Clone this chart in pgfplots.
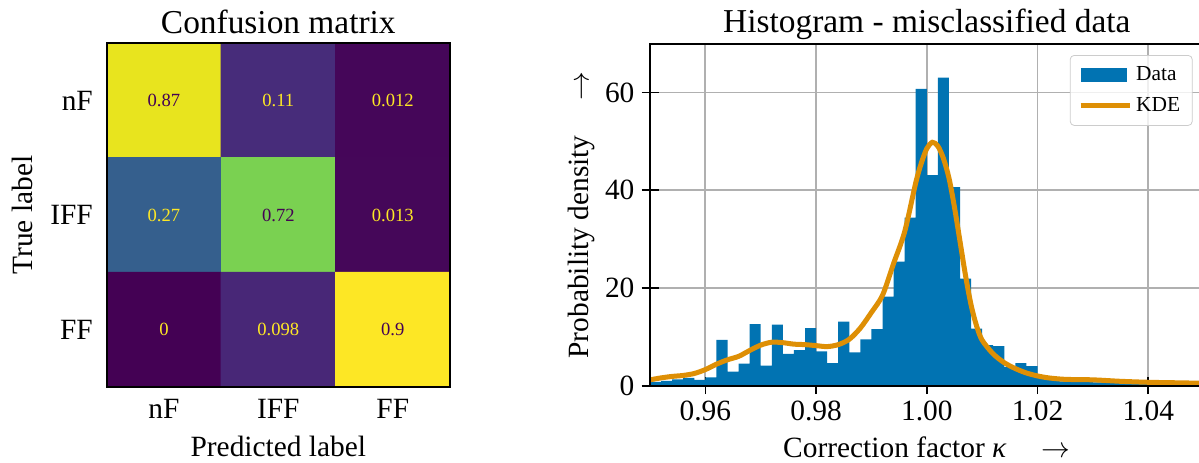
\documentclass[border=0pt]{standalone}
\usepackage{fontspec}
\setmainfont{Liberation Serif}
\usepackage{pgfplots}
\pgfplotsset{compat=1.18}
\definecolor{cbblue}{HTML}{0173B2}
\definecolor{cborange}{HTML}{DE8F05}
\definecolor{vyel}{HTML}{FDE725}
\definecolor{vpur}{HTML}{440154}
\definecolor{gridgray}{HTML}{B0B0B0}
\newcommand{\ttl}{\fontsize{16.7}{20}\selectfont}
\newcommand{\lbl}{\fontsize{14.7}{17}\selectfont}
\newcommand{\legf}{\fontsize{10.7}{12.5}\selectfont}
\newcommand{\cellf}{\fontsize{9.3}{11}\selectfont}
\newcommand{\arr}{{\fontsize{14}{16}\selectfont$\rightarrow$}}
\begin{document}
\begin{tikzpicture}
\useasboundingbox (0,0) rectangle (599.5pt,231pt);

% confusion matrix
\begin{axis}[
  at={(53.35pt,37.65pt)}, anchor=south west,
  scale only axis, width=171.65pt, height=171.7pt,
  xmin=-0.5, xmax=2.5, ymin=-0.5, ymax=2.5, y dir=reverse,
  xtick={0,1,2}, ytick={0,1,2},
  xticklabels={nF,IFF,FF}, yticklabels={nF,IFF,FF},
  major tick length=0pt,
  ticklabel style={font=\lbl},
  xticklabel style={yshift=-2.9pt},
  yticklabel style={xshift=-3.4pt},
  colormap/viridis, point meta min=0, point meta max=0.9,
  axis on top, axis line style={line width=1pt},
  every axis title shift=0pt,
  title={Confusion matrix},
  title style={at={(0.5,1.0291)}, anchor=base, yshift=0pt, font=\ttl},
  xlabel={Predicted label},
  xlabel style={at={(0.5,-0.2038)}, anchor=base, font=\lbl},
  ylabel={True label},
  ylabel style={at={(-0.215,0.5)}, anchor=base, font=\lbl},
]
\addplot[matrix plot*, mesh/cols=3, point meta=explicit] coordinates {
  (0,0) [0.87] (1,0) [0.11] (2,0) [0.012]
  (0,1) [0.27] (1,1) [0.72] (2,1) [0.013]
  (0,2) [0]    (1,2) [0.098] (2,2) [0.9]
};
\addplot[draw=none, nodes near coords, point meta=explicit symbolic,
  every node near coord/.append style={anchor=center, font=\cellf, text=vyel}]
  coordinates {(1,0)[0.11] (2,0)[0.012] (0,1)[0.27] (2,1)[0.013] (0,2)[0] (1,2)[0.098]};
\addplot[draw=none, nodes near coords, point meta=explicit symbolic,
  every node near coord/.append style={anchor=center, font=\cellf, text=vpur}]
  coordinates {(0,0)[0.87] (1,1)[0.72] (2,2)[0.9]};
\end{axis}

% histogram
\begin{axis}[
  at={(325pt,38.15pt)}, anchor=south west,
  scale only axis, width=276.8pt, height=170.85pt,
  xmin=0.95, xmax=1.05, ymin=0, ymax=69.9,
  xtick={0.96,0.98,1.00,1.02,1.04}, ytick={0,20,40,60},
  x tick label style={/pgf/number format/fixed, /pgf/number format/fixed zerofill, /pgf/number format/precision=2},
  /pgf/number format/assume math mode=true,
  ticklabel style={font=\lbl},
  grid=major, major grid style={gridgray, line width=0.9pt},
  tick align=center, major tick length=8.5pt,
  xtick pos=bottom, ytick pos=left,
  tick style={black, line width=0.8pt},
  axis line style={line width=1pt},
  every axis title shift=0pt,
  title={Histogram - misclassified data},
  title style={at={(0.5,1.0342)}, anchor=base, yshift=0pt, font=\ttl},
  xlabel={Correction factor {\itshape κ}\hspace{1.2em}\arr},
  xlabel style={at={(0.5,-0.2095)}, anchor=base, font=\lbl},
  ylabel={Probability density\hspace{1.2em}\arr},
  ylabel style={at={(-0.1111,0.5)}, anchor=base, font=\lbl},
  legend style={at={(1,1)}, anchor=north east, xshift=-5.5pt, yshift=-5.5pt,
    draw=black!20, rounded corners=2pt, fill=white, fill opacity=0.8, text opacity=1,
    font=\legf, inner xsep=4pt, inner ysep=3.5pt, row sep=3pt},
  legend cell align=left,
]
\addplot[ybar interval, fill=cbblue, draw=none,
  legend image code/.code={\fill[cbblue, sharp corners, fill opacity=1] (0pt,-3.5pt) rectangle (23pt,3.5pt);}]
  coordinates {
  (0.950,0.8) (0.952,1.0) (0.954,1.3) (0.956,1.6) (0.958,1.2) (0.960,1.7)
  (0.962,9.4) (0.964,2.9) (0.966,4.5) (0.968,12.6) (0.970,4.1) (0.972,12.5)
  (0.974,6.5) (0.976,7.3) (0.978,11.8) (0.980,7.0) (0.982,4.6) (0.984,13.1)
  (0.986,6.8) (0.988,9.5) (0.990,11.6) (0.992,18.2) (0.994,25.4) (0.996,34.4)
  (0.998,60.7) (1.000,43.1) (1.002,63.0) (1.004,40.6) (1.006,21.9) (1.008,11.7)
  (1.010,8.3) (1.012,8.1) (1.014,3.8) (1.016,4.6) (1.018,4.0) (1.020,1.6)
  (1.022,1.2) (1.024,0.9) (1.026,0.8) (1.028,0.8) (1.030,0.7) (1.032,0.7)
  (1.034,0.6) (1.036,0.6) (1.038,0.5) (1.040,0.5) (1.042,0.4) (1.044,0.4)
  (1.046,0.4) (1.048,0.3) (1.050,0.3)
};
\addplot[cborange, line width=2.5pt, smooth,
  legend image code/.code={\draw[cborange, line width=2.5pt, sharp corners, draw opacity=1] (0pt,0pt) -- (24.5pt,0pt);}]
  coordinates {
  (0.950,1.2) (0.952,1.6) (0.954,1.9) (0.956,2.1) (0.958,2.5) (0.960,3.3)
  (0.962,4.4) (0.964,5.3) (0.966,6.0) (0.968,7.2) (0.970,8.3) (0.972,8.9)
  (0.974,8.8) (0.976,8.5) (0.978,8.4) (0.980,8.2) (0.982,8.0) (0.984,8.4)
  (0.986,9.5) (0.988,11.8) (0.990,15.0) (0.992,18.5) (0.994,25.0) (0.996,31.5)
  (0.998,41.5) (0.999,45.5) (1.000,48.5) (1.001,49.8) (1.002,49.0) (1.003,46.5)
  (1.004,42.5) (1.005,36.5) (1.006,29.5) (1.007,22.5) (1.008,16.5) (1.009,12.2)
  (1.010,9.3) (1.012,6.5) (1.014,4.7) (1.016,3.5) (1.018,2.6) (1.020,2.0)
  (1.022,1.6) (1.025,1.3) (1.030,1.2) (1.035,0.9) (1.040,0.7) (1.045,0.6)
  (1.050,0.5)
};
\legend{Data,KDE}
\draw[line width=1pt] (rel axis cs:0,0) rectangle (rel axis cs:1,1);
\end{axis}
\end{tikzpicture}
\end{document}
